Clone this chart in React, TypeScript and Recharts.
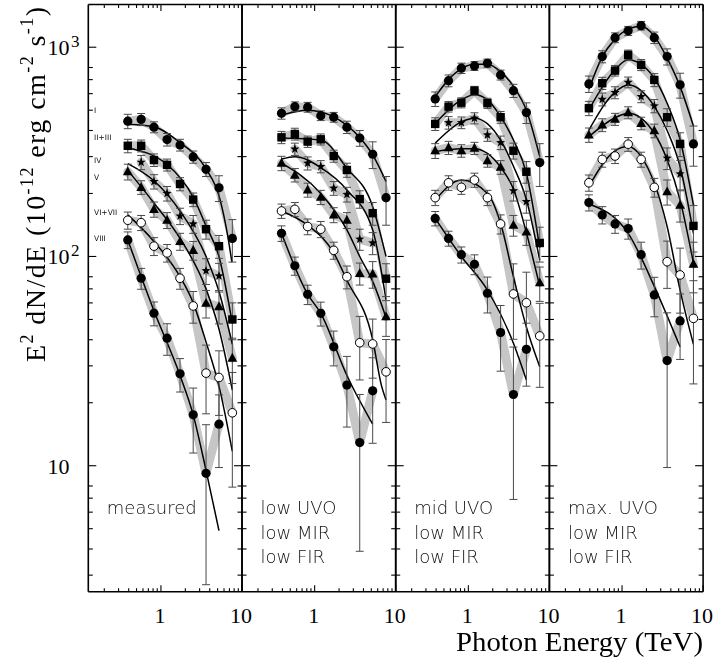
import React from 'react';
import { ComposedChart, Scatter, Line, XAxis, YAxis, ErrorBar } from 'recharts';

// photon energies (TeV) of the spectral bins, shared by every panel
const energies = [0.39, 0.57, 0.82, 1.19, 1.72, 2.5, 3.6, 5.2, 7.6];

const seriesNames = ['I', 'II+III', 'IV', 'V', 'VI+VII', 'VIII'];
const seriesMarkers = ['dot', 'square', 'star', 'triangle', 'ring', 'dot'];

const panelNotes = [
  ['measured'],
  ['low UVO', 'low MIR', 'low FIR'],
  ['mid UVO', 'low MIR', 'low FIR'],
  ['max. UVO', 'low MIR', 'low FIR'],
];

const xTicks = [0.2, 0.3, 0.4, 0.5, 0.6, 0.7, 0.8, 0.9, 1, 2, 3, 4, 5, 6, 7, 8, 9, 10];
const xLabels = [1, 10];
const yTicks = [3, 4, 5, 6, 7, 8, 10, 20, 30, 40, 50, 60, 70, 80, 100, 200, 300, 400, 500, 600, 700, 800, 1000];
const yLabels = [10, 100, 1000];

// E^2 dN/dE values, one row per state (I ... VIII)
const measuredFlux = [
  [443, 452, 415, 362, 341, 299, 261, 213, 122],
  [338, 338, 289, 274, 222, 187, 135, 112, 50],
  [null, 282, 228, 200, 156, 143, 85.5, 80.7, null],
  [254, 214, 168, 149, 118, 107, 59.8, 57.6, 32.7],
  [149, 145, 112, 104, 78.7, 58, 27.7, 26.4, 17.9],
  [120, 78.7, 53.6, 40.7, 27.5, 17.5, 9.2, 15.8, null],
];
const measuredErr = [
  [35, 30, 25, 25, 22, 20, 20, 30, 28],
  [25, 22, 20, 18, 16, 14, 14, 14, 10],
  [null, 22, 18, 16, 14, 14, 12, 12, null],
  [22, 16, 14, 13, 11, 11, 9, 10, 8],
  [14, 12, 11, 10, 9, 10, 10, 9, 10],
  [11, 9, 7, 7, 5, 6, 6.5, 6, null],
];
const measuredFit = [
  [[0.39, 428], [0.82, 416], [1.72, 350], [3.6, 262], [5.3, 190], [6.7, 124], [7.5, 94]],
  [[0.39, 330], [1.19, 275], [2.5, 192], [3.6, 140], [5.2, 100], [7.6, 48]],
  [[0.39, 278], [0.82, 230], [1.72, 165], [3.6, 100], [5.2, 68], [7.6, 38]],
  [[0.39, 258], [0.82, 180], [1.72, 122], [3.6, 70], [5.2, 45], [7.6, 23]],
  [[0.39, 158], [0.82, 118], [1.72, 80], [2.5, 60], [3.6, 39], [5.2, 24], [7.6, 11.7]],
  [[0.39, 120], [0.82, 55], [1.72, 27], [2.5, 17.5], [3.6, 9.5], [5.2, 4.9]],
];

const lowUvoFlux = [
  [483, 520, 517, 471, 463, 415, 368, 308, 191],
  [371, 385, 354, 363, 302, 259, 188, 161, 78.3],
  [null, 326, 279, 269, 212, 198, 121, 116, null],
  [279, 245, 208, 192, 158, 149, 83, 82.5, 51.5],
  [165, 168, 139, 135, 107, 80, 38.7, 38.2, 28.1],
  [129, 90.3, 65.9, 53.5, 37, 24.3, 12.9, 22.8, null],
];
const lowUvoErr = [
  [30, 28, 28, 25, 25, 28, 32, 45, 50],
  [25, 25, 22, 22, 20, 20, 18, 20, 14],
  [null, 22, 20, 18, 16, 16, 14, 14, null],
  [22, 18, 16, 15, 13, 13, 10, 12, 10],
  [13, 13, 12, 12, 10, 10, 13, 12, 12],
  [11, 9, 7, 7, 7, 9, 9, 10, null],
];
const lowUvoFit = [
  [[0.39, 474], [0.82, 500], [1.72, 465], [3.6, 370], [5.2, 306], [7.6, 228]],
  [[0.39, 368], [1.19, 360], [2.5, 264], [5.2, 173], [7.6, 100]],
  [[0.39, 292], [0.57, 300], [1.19, 266], [2.5, 208], [5.2, 134], [7.6, 62]],
  [[0.39, 279], [1.19, 200], [2.5, 134], [3.6, 100], [5.2, 76], [7.6, 51]],
  [[0.39, 165], [0.82, 141], [1.72, 104], [2.5, 77], [5.2, 40], [6.7, 24], [7.6, 20.6]],
  [[0.39, 129], [0.82, 66], [1.19, 53.5], [2.5, 27], [5.2, 15.8]],
];

const midUvoFlux = [
  [566, 692, 794, 814, 838, 737, 620, 487, 281],
  [430, 520, 543, 620, 540, 463, 320, 254, 116],
  [null, 436, 436, 458, 381, 350, 206, 183, null],
  [320, 331, 320, 329, 287, 267, 141, 131, 75],
  [191, 225, 214, 232, 191, 143, 66.2, 60.1, 41.7],
  [152, 122, 102, 91.8, 66.7, 43.3, 21.9, 36, null],
];
const midUvoErr = [
  [45, 45, 45, 40, 40, 40, 45, 55, 65],
  [30, 30, 30, 30, 30, 30, 28, 30, 22],
  [null, 30, 28, 28, 26, 26, 22, 22, null],
  [26, 24, 22, 22, 20, 20, 16, 18, 14],
  [16, 18, 16, 18, 16, 15, 26, 24, 18],
  [12, 10, 9, 10, 13, 15, 15, 12, null],
];
const midUvoFit = [
  [[0.39, 580], [0.57, 700], [0.82, 790], [1.19, 830], [1.72, 830], [2.5, 764], [3.6, 650], [5.2, 500], [7.6, 300]],
  [[0.39, 432], [0.82, 560], [1.19, 592], [1.72, 560], [2.5, 466], [3.6, 360], [5.2, 250], [7.6, 110]],
  [[0.39, 348], [0.82, 440], [1.19, 458], [2.5, 360], [3.6, 270], [5.2, 187], [7.6, 96]],
  [[0.39, 317], [0.82, 327], [1.19, 327], [2.5, 267], [3.6, 210], [5.2, 130], [7.6, 72]],
  [[0.39, 186], [0.82, 232], [1.72, 200], [2.5, 144], [3.6, 80], [5.2, 46], [7.6, 29.7]],
  [[0.39, 152], [0.82, 100], [1.72, 69], [3.6, 38.5], [5.2, 25.7]],
];

const maxUvoFlux = [
  [668, 902, 1111, 1197, 1268, 1111, 902, 661, 345],
  [511, 673, 773, 919, 823, 698, 463, 345, 140],
  [null, 564, 607, 680, 581, 524, 295, 248, null],
  [381, 425, 453, 487, 433, 399, 204, 176, 92],
  [225, 291, 302, 344, 291, 214, 94.4, 81.6, 50.6],
  [181, 158, 143, 136, 102, 65.5, 31.8, 49.2, null],
];
const maxUvoErr = [
  [60, 60, 60, 60, 60, 70, 80, 90, 75],
  [40, 45, 45, 50, 50, 50, 45, 45, 35],
  [null, 40, 40, 40, 38, 38, 35, 40, null],
  [30, 30, 30, 32, 30, 30, 28, 30, 25],
  [20, 24, 24, 26, 24, 22, 24, 28, 26],
  [16, 15, 14, 15, 15, 14, 22, 17, null],
];
const maxUvoFit = [
  [[0.39, 630], [0.57, 900], [0.82, 1090], [1.19, 1220], [1.72, 1260], [2.5, 1130], [3.6, 886], [5.2, 648], [7.6, 420]],
  [[0.39, 502], [0.82, 780], [1.19, 870], [2.5, 711], [3.6, 540], [5.2, 361], [7.6, 176]],
  [[0.39, 402], [0.82, 610], [1.19, 660], [2.5, 522], [3.6, 400], [5.2, 269], [7.6, 129]],
  [[0.39, 374], [0.82, 460], [1.19, 484], [2.5, 388], [3.6, 290], [5.2, 186], [7.6, 93]],
  [[0.39, 216], [0.82, 320], [1.19, 335], [1.72, 300], [3.6, 139], [5.2, 69], [7.6, 38]],
  [[0.39, 178], [1.19, 129], [2.5, 72], [3.6, 52], [5.2, 37]],
];

const panels = [
  { flux: measuredFlux, err: measuredErr, fit: measuredFit },
  { flux: lowUvoFlux, err: lowUvoErr, fit: lowUvoFit },
  { flux: midUvoFlux, err: midUvoErr, fit: midUvoFit },
  { flux: maxUvoFlux, err: maxUvoErr, fit: maxUvoFit },
];

// layout
const W = 713;
const H = 662;
const edges = [88.3, 242, 395.7, 549.4, 703.1];
const plotTop = 4.5;
const plotBottom = 591.7;
const SERIF = '"Liberation Serif", "Times New Roman", serif';
const SANS = '"DejaVu Sans", "Liberation Sans", sans-serif';
const frame = { stroke: '#000', strokeWidth: 1.6 };

function Marker({ kind, cx, cy }: any) {
  if (cx == null || cy == null) return null;
  if (kind === 'dot') return <circle cx={cx} cy={cy} r={4.6} fill="#000" />;
  if (kind === 'ring') return <circle cx={cx} cy={cy} r={4.3} fill="#fff" stroke="#000" strokeWidth={1} />;
  if (kind === 'square') return <rect x={cx - 4.2} y={cy - 4.2} width={8.4} height={8.4} fill="#000" />;
  if (kind === 'triangle') {
    return <polygon points={`${cx},${cy - 5.2} ${cx + 4.9},${cy + 3.6} ${cx - 4.9},${cy + 3.6}`} fill="#000" />;
  }
  // five-pointed star
  const pts: string[] = [];
  for (let k = 0; k < 10; k++) {
    const r = k % 2 === 0 ? 4.8 : 2;
    const a = -Math.PI / 2 + (k * Math.PI) / 5;
    pts.push(`${cx + r * Math.cos(a)},${cy + r * Math.sin(a)}`);
  }
  return <polygon points={pts.join(' ')} fill="#000" />;
}

const bottomTick = (p: any) => {
  const v = p.payload.value;
  const major = xLabels.includes(v);
  return (
    <g>
      <line x1={p.x} x2={p.x} y1={p.y} y2={p.y - (major ? 6.5 : 3.5)} stroke="#000" strokeWidth={1.1} />
      {major && (
        <text x={p.x - 1} y={p.y + 31} textAnchor="middle" fontFamily={SERIF} fontSize={22} fill="#000">
          {v}
        </text>
      )}
    </g>
  );
};

const topTick = (p: any) => {
  const major = xLabels.includes(p.payload.value);
  return <line x1={p.x} x2={p.x} y1={p.y} y2={p.y + (major ? 6.5 : 3.5)} stroke="#000" strokeWidth={1.1} />;
};

const makeLeftTick = (withLabels: boolean) => (p: any) => {
  const v = p.payload.value;
  const major = yLabels.includes(v);
  const exp = Math.round(Math.log10(v));
  return (
    <g>
      <line x1={p.x} x2={p.x + (major ? 8 : 4.5)} y1={p.y} y2={p.y} stroke="#000" strokeWidth={1.1} />
      {withLabels && major && (
        <g fontFamily={SERIF} fill="#000">
          <text x={69.5} y={p.y + 8} textAnchor="end" fontSize={22}>
            10
          </text>
          {exp > 1 && (
            <text x={71} y={p.y - 0.5} fontSize={17}>
              {exp}
            </text>
          )}
        </g>
      )}
    </g>
  );
};

const rightTick = (p: any) => {
  const major = yLabels.includes(p.payload.value);
  return <line x1={p.x} x2={p.x - (major ? 8 : 4.5)} y1={p.y} y2={p.y} stroke="#000" strokeWidth={1.1} />;
};

function Panel({ index }: { index: number }) {
  const { flux, err, fit } = panels[index];
  const left = edges[index];
  const right = edges[index + 1];
  const series = flux.map((row, s) =>
    energies
      .map((e, i) => ({ e, v: row[i], err: err[s][i] }))
      .filter((d) => d.v != null)
  );
  const fits = fit.map((rows) => rows.map(([e, v]) => ({ e, v })));
  const axisCommon = {
    type: 'number' as const,
    scale: 'log' as const,
    allowDataOverflow: true,
    interval: 0 as const,
    tickSize: 0,
    tickMargin: 0,
    tickLine: false,
    axisLine: frame,
  };
  return (
    <div style={{ position: 'absolute', left: 0, top: 0 }}>
      <ComposedChart width={W} height={H} margin={{ top: 0, right: 0, bottom: 0, left: 0 }}>
        <XAxis xAxisId="b" dataKey="e" {...axisCommon} domain={[0.127, 10]} ticks={xTicks} height={H - plotBottom} tick={bottomTick} />
        <XAxis xAxisId="t" dataKey="e" orientation="top" {...axisCommon} domain={[0.127, 10]} ticks={xTicks} height={plotTop} tick={topTick} />
        <YAxis yAxisId="l" dataKey="v" {...axisCommon} domain={[2.5, 1600]} ticks={yTicks} width={left} tick={makeLeftTick(index === 0)} />
        <YAxis yAxisId="r" dataKey="v" orientation="right" {...axisCommon} domain={[2.5, 1600]} ticks={yTicks} width={W - right} tick={rightTick} />
        {series.map((pts, s) => (
          <Line
            key={`band${s}`}
            xAxisId="b"
            yAxisId="l"
            data={pts}
            dataKey="v"
            type="linear"
            stroke="#c6c6c6"
            strokeWidth={9}
            strokeLinejoin="round"
            strokeLinecap="round"
            dot={false}
            activeDot={false}
            isAnimationActive={false}
          />
        ))}
        {fits.map((pts, s) => (
          <Line
            key={`fit${s}`}
            xAxisId="b"
            yAxisId="l"
            data={pts}
            dataKey="v"
            type="monotone"
            stroke="#000"
            strokeWidth={1.5}
            dot={false}
            activeDot={false}
            isAnimationActive={false}
          />
        ))}
        {series.map((pts, s) => (
          <Scatter
            key={`pts${s}`}
            xAxisId="b"
            yAxisId="l"
            data={pts}
            isAnimationActive={false}
            shape={(p: any) => <Marker kind={seriesMarkers[s]} cx={p.cx} cy={p.cy} />}
          >
            <ErrorBar dataKey="err" direction="y" width={4} stroke="#4a4a4a" strokeWidth={1} isAnimationActive={false} />
          </Scatter>
        ))}
      </ComposedChart>
    </div>
  );
}

function Overlay() {
  const labelY = [113, 140, 163, 180, 215, 241];
  return (
    <svg
      width={W}
      height={H}
      style={{ position: 'absolute', left: 0, top: 0, pointerEvents: 'none', willChange: 'transform' }}
    >
      {seriesNames.map((n, i) => (
        <text key={n} x={94} y={labelY[i]} fontFamily={SANS} fontSize={7.5} fill="#111">
          {n}
        </text>
      ))}
      {panelNotes.map((lines, p) =>
        lines.map((t, j) => (
          <text key={`${p}-${j}`} x={edges[p] + 18.5} y={514 + j * 24.7} fontFamily={SANS} fontWeight={200} fontSize={18} fill="#111">
            {t}
          </text>
        ))
      )}
      <text
        transform="translate(45, 184.5) rotate(-90)"
        textAnchor="middle"
        fontFamily={SERIF}
        fontSize={28}
        fill="#000"
        textLength={355}
        lengthAdjust="spacing"
      >
        E<tspan fontSize={18} dy={-12}>2</tspan>
        <tspan dy={12}> dN/dE (10</tspan>
        <tspan fontSize={18} dy={-12}>-12</tspan>
        <tspan dy={12}> erg cm</tspan>
        <tspan fontSize={18} dy={-12}>-2</tspan>
        <tspan dy={12}> s</tspan>
        <tspan fontSize={18} dy={-12}>-1</tspan>
        <tspan dy={12}>)</tspan>
      </text>
      <text
        x={703}
        y={651}
        textAnchor="end"
        fontFamily={SERIF}
        fontSize={27}
        fill="#000"
        textLength={247}
        lengthAdjust="spacingAndGlyphs"
      >
        Photon Energy (TeV)
      </text>
    </svg>
  );
}

export default function App() {
  return (
    <div style={{ position: 'absolute', left: 0, top: 0, width: W, height: H, background: '#fff' }}>
      {panels.map((_, i) => (
        <Panel key={i} index={i} />
      ))}
      <Overlay />
    </div>
  );
}
